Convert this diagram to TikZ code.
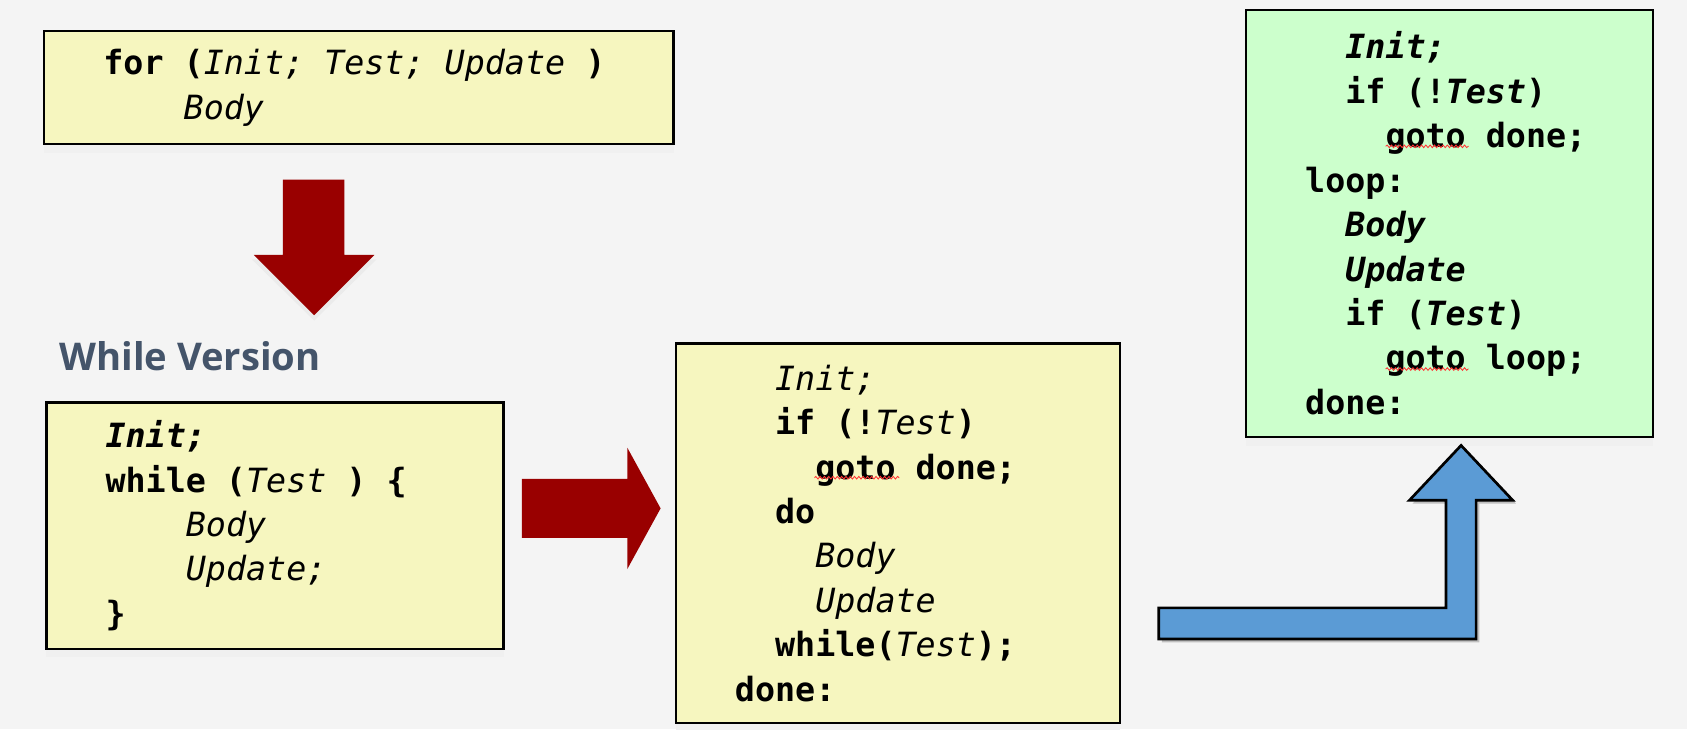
\documentclass[tikz,border=0pt]{standalone}
\usepackage{fontspec}
\usepackage{tikz}
\usetikzlibrary{shadows,decorations.pathmorphing}
\newfontfamily\codefont{DejaVu Sans Mono}
\newfontfamily\headfont{Open Sans}
\definecolor{codeyellow}{HTML}{F6F6BF}
\definecolor{codegreen}{HTML}{CCFFCC}
\definecolor{darkred}{HTML}{990000}
\definecolor{arrowblue}{HTML}{5B9BD5}
\definecolor{slidegray}{HTML}{F4F4F4}
\definecolor{headgray}{HTML}{44546A}
\newcommand{\kw}[1]{\textbf{#1}}
\newcommand{\vr}[1]{\textit{#1}}
\newcommand{\bvr}[1]{\textbf{\textit{#1}}}
\newcommand{\ind}[1]{\phantom{#1}}
\DeclareRobustCommand{\codesize}{\codefont\fontsize{31}{41.3}\selectfont\frenchspacing}
\newcommand{\monospaces}{\spaceskip 18.66pt\relax\xspaceskip 18.66pt\relax}

\begin{document}
\begin{tikzpicture}[x=1pt,y=-1pt,
    codebox/.style={draw, line width=2.2pt, anchor=north west, align=left,
      inner xsep=55pt, inner ysep=0pt, font=\codesize,
      execute at begin node=\monospaces,
      drop shadow={shadow xshift=0pt, shadow yshift=-8pt, fill=black!6, opacity=1}},
    redarrow/.style={fill=darkred, draw=none},
    bluearrow/.style={fill=arrowblue, draw=black, line width=2.5pt, line join=miter},
    squiggle/.style={draw=red!80, line width=0.8pt,
      decorate, decoration={snake, amplitude=1.2pt, segment length=4pt}}]
  \fill[slidegray] (0,0) rectangle (1568,678);
  \useasboundingbox (0,0) rectangle (1568,678);

  % code boxes
  \node [codebox, fill=codeyellow, text width=475pt, minimum height=105pt] (forbox) at (40,28)
    {\kw{for (}\vr{Init; Test; Update} \kw{)}\\
     \ind{xxxx}\vr{Body}};
  \node [codebox, fill=codeyellow, text width=315pt, minimum height=229pt] (whilebox) at (42,373)
    {\bvr{Init;}\\
     \kw{while (}\vr{Test} \kw{) \{}\\
     \ind{xxxx}\vr{Body}\\
     \ind{xxxx}\vr{Update;}\\
     \kw{\}}};
  \node [codebox, fill=codeyellow, text width=303pt, minimum height=353pt] (dobox) at (627,318)
    {\ind{xx}\vr{Init;}\\
     \ind{xx}\kw{if (!}\vr{Test}\kw{)}\\
     \ind{xxxx}\kw{goto done;}\\
     \ind{xx}\kw{do}\\
     \ind{xxxx}\vr{Body}\\
     \ind{xxxx}\vr{Update}\\
     \ind{xx}\kw{while(}\vr{Test}\kw{);}\\
     \kw{done:}};
  \node [codebox, fill=codegreen, text width=268pt, minimum height=397pt] (gotobox) at (1157,8)
    {\ind{xx}\bvr{Init;}\\
     \ind{xx}\kw{if (!}\bvr{Test}\kw{)}\\
     \ind{xxxx}\kw{goto done;}\\
     \kw{loop:}\\
     \ind{xx}\bvr{Body}\\
     \ind{xx}\bvr{Update}\\
     \ind{xx}\kw{if (}\bvr{Test}\kw{)}\\
     \ind{xxxx}\kw{goto loop;}\\
     \kw{done:}};

  \node [font=\headfont\bfseries\fontsize{35.5}{40}\selectfont, text=headgray,
    anchor=west, inner sep=0pt] (whilelabel) at (55,331) {While Version};

  % spell check marks
  \draw [squiggle] (757,444) -- (836,444);
  \draw [squiggle] (1288,136) -- (1365,136);
  \draw [squiggle] (1288,343) -- (1365,343);

  % block arrows
  \fill [black!8] (263,171) -- (320,171) -- (320,241) -- (350,241) -- (292,298)
    -- (234,241) -- (263,241) -- cycle;
  \path [redarrow] (263,167) -- (320,167) -- (320,237) -- (348,237) -- (292,293)
    -- (236,237) -- (263,237) -- cycle;
  \path [redarrow] (485,445) -- (583,445) -- (583,416) -- (614,472.5) -- (583,529)
    -- (583,500) -- (485,500) -- cycle;
  \fill [black!25] (1080,568) -- (1347,568) -- (1347,468) -- (1313,468) -- (1361,417)
    -- (1409,468) -- (1375,468) -- (1375,597) -- (1080,597) -- cycle;
  \path [bluearrow] (1077,565) -- (1344,565) -- (1344,465) -- (1310,465) -- (1358,414)
    -- (1406,465) -- (1372,465) -- (1372,594) -- (1077,594) -- cycle;
\end{tikzpicture}
\end{document}
